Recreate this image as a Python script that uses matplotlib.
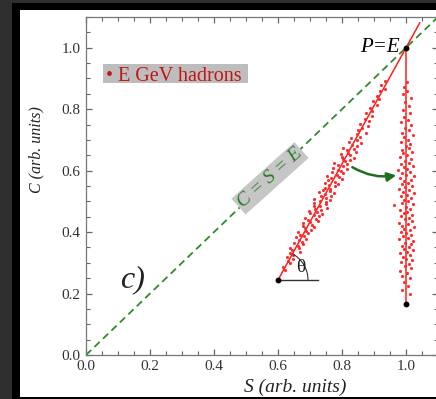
import numpy as np
import matplotlib
matplotlib.use("Agg")
import matplotlib.pyplot as plt
from matplotlib.patches import Arc, Rectangle, FancyArrowPatch
from matplotlib.ticker import MultipleLocator, FormatStrFormatter

plt.rcParams['font.family'] = ['Liberation Serif', 'DejaVu Serif']

# hadron showers, tilted cloud (S, C) before correction
tilt_s = [0.621, 0.616, 0.638, 0.630, 0.648, 0.629, 0.648, 0.639, 0.669, 0.645,
          0.666, 0.636, 0.661, 0.678, 0.650, 0.675, 0.667, 0.689, 0.656, 0.682,
          0.669, 0.693, 0.661, 0.687, 0.702, 0.684, 0.713, 0.679, 0.705, 0.679,
          0.701, 0.724, 0.695, 0.719, 0.683, 0.727, 0.711, 0.738, 0.699, 0.723,
          0.698, 0.733, 0.716, 0.753, 0.714, 0.731, 0.751, 0.714, 0.749, 0.731,
          0.762, 0.714, 0.750, 0.734, 0.765, 0.746, 0.776, 0.728, 0.764, 0.740,
          0.762, 0.747, 0.779, 0.759, 0.789, 0.747, 0.778, 0.756, 0.801, 0.767,
          0.791, 0.754, 0.783, 0.804, 0.769, 0.798, 0.786, 0.815, 0.772, 0.803,
          0.787, 0.816, 0.775, 0.808, 0.825, 0.802, 0.837, 0.799, 0.825, 0.798,
          0.820, 0.843, 0.815, 0.839, 0.804, 0.847, 0.832, 0.860, 0.822, 0.847,
          0.829, 0.855, 0.846, 0.874, 0.849, 0.863, 0.880, 0.856, 0.883, 0.873,
          0.894, 0.874, 0.895, 0.888, 0.909, 0.897, 0.917, 0.908, 0.919, 0.933,
          0.923, 0.934]
tilt_c = [0.278, 0.286, 0.298, 0.305, 0.312, 0.318, 0.326, 0.332, 0.334, 0.341,
          0.347, 0.349, 0.356, 0.361, 0.364, 0.368, 0.375, 0.379, 0.384, 0.387,
          0.392, 0.396, 0.401, 0.403, 0.408, 0.413, 0.418, 0.419, 0.424, 0.429,
          0.432, 0.437, 0.440, 0.444, 0.446, 0.451, 0.455, 0.458, 0.461, 0.465,
          0.469, 0.472, 0.476, 0.480, 0.484, 0.486, 0.490, 0.494, 0.498, 0.501,
          0.505, 0.509, 0.512, 0.516, 0.519, 0.523, 0.526, 0.530, 0.534, 0.537,
          0.541, 0.545, 0.549, 0.553, 0.556, 0.560, 0.564, 0.568, 0.572, 0.575,
          0.579, 0.583, 0.587, 0.591, 0.595, 0.598, 0.602, 0.606, 0.610, 0.614,
          0.618, 0.622, 0.626, 0.630, 0.634, 0.638, 0.642, 0.646, 0.650, 0.654,
          0.658, 0.662, 0.667, 0.671, 0.675, 0.679, 0.684, 0.689, 0.694, 0.699,
          0.705, 0.711, 0.718, 0.724, 0.731, 0.738, 0.745, 0.752, 0.760, 0.768,
          0.777, 0.786, 0.795, 0.805, 0.815, 0.826, 0.834, 0.842, 0.858, 0.866,
          0.878, 0.893]

# same showers after rotation (S = E)
vert_s = [1.014, 0.986, 1.006, 0.993, 1.011, 0.989, 1.003, 0.981, 1.017, 0.996,
          1.008, 0.985, 1.019, 0.999, 0.990, 1.012, 0.982, 1.004, 1.021, 0.993,
          1.009, 0.986, 1.015, 0.998, 1.023, 0.979, 1.006, 0.991, 1.016, 1.001,
          0.984, 1.011, 0.995, 1.024, 0.988, 1.005, 0.977, 1.018, 0.997, 1.009,
          0.985, 1.020, 0.993, 1.003, 0.980, 1.014, 0.999, 0.962, 1.022, 0.989,
          1.007, 0.994, 1.017, 0.983, 1.002, 1.025, 0.990, 1.010, 0.978, 0.998,
          1.019, 0.987, 1.006, 0.995, 1.015, 0.982, 1.024, 1.001, 0.989, 1.012,
          0.976, 1.004, 0.993, 1.021, 0.985, 1.008, 0.997, 1.016, 0.981, 1.003,
          0.992, 1.019, 0.987, 1.009, 0.999, 1.014, 0.983, 1.005, 0.994, 1.022,
          0.988, 1.010, 0.997, 1.017, 0.985, 1.006, 0.993, 1.013, 0.990, 1.008,
          0.996, 1.015, 0.991, 1.004, 0.995, 1.002]
vert_c = [0.198, 0.212, 0.226, 0.238, 0.249, 0.258, 0.266, 0.275, 0.282, 0.289,
          0.296, 0.302, 0.308, 0.314, 0.320, 0.325, 0.331, 0.336, 0.341, 0.346,
          0.351, 0.356, 0.361, 0.366, 0.371, 0.376, 0.381, 0.386, 0.391, 0.396,
          0.401, 0.406, 0.411, 0.416, 0.421, 0.426, 0.431, 0.436, 0.441, 0.446,
          0.451, 0.456, 0.461, 0.466, 0.471, 0.476, 0.481, 0.489, 0.491, 0.496,
          0.501, 0.506, 0.511, 0.516, 0.521, 0.526, 0.531, 0.536, 0.541, 0.546,
          0.551, 0.556, 0.561, 0.566, 0.571, 0.576, 0.581, 0.586, 0.591, 0.596,
          0.601, 0.606, 0.611, 0.616, 0.621, 0.626, 0.632, 0.638, 0.644, 0.650,
          0.656, 0.662, 0.668, 0.674, 0.680, 0.687, 0.694, 0.701, 0.708, 0.715,
          0.723, 0.731, 0.739, 0.748, 0.757, 0.766, 0.776, 0.787, 0.798, 0.810,
          0.822, 0.835, 0.848, 0.860, 0.873, 0.888]

diag_s = [0.0, 1.1]
diag_c = [0.0, 1.1]
fit_s = [0.6, 1.043]
fit_c = [0.244, 1.081]
rot_s = [1.0, 1.0]
rot_c = [0.165, 1.0]
base_s = [0.6, 0.724]
base_c = [0.244, 0.244]
key_s = [0.6, 1.0, 1.0]
key_c = [0.244, 1.0, 0.165]

W, H = 436, 399
fig = plt.figure(figsize=(W / 100, H / 100), dpi=100, facecolor='#2f2f2f')
# dark frame around the panel
fig.add_artist(Rectangle((12 / W, 0), 1, 396 / H, transform=fig.transFigure,
                         facecolor='black', edgecolor='none', zorder=-10))
fig.add_artist(Rectangle((20 / W, 2.5 / H), 1, 386.5 / H, transform=fig.transFigure,
                         facecolor='white', edgecolor='none', zorder=-9))

ax = fig.add_axes([86 / W, 44 / H, 352 / W, 338 / H])
ax.set_facecolor('white')

ax.plot(diag_s, diag_c, color='#2f8a2f', lw=1.3, ls=(0, (4, 2.5)), zorder=2)
ax.plot(fit_s, fit_c, color='#ff1e1e', lw=1.1, zorder=3)
ax.plot(rot_s, rot_c, color='#ff1e1e', lw=1.1, zorder=3)
ax.scatter(tilt_s, tilt_c, s=5, color='#ff2a2a', linewidths=0, zorder=3)
ax.scatter(vert_s, vert_c, s=5, color='#ff2a2a', linewidths=0, zorder=3)
ax.plot(base_s, base_c, color='#333333', lw=1.0, zorder=3)
ax.plot(key_s, key_c, 'o', color='black', ms=3.2, zorder=4)

# angle theta
ax.add_patch(Arc((key_s[0], key_c[0]), 0.1875, 0.195, theta1=0, theta2=62,
                 color='#333333', lw=0.8, zorder=3))
ax.text(0.671, 0.285, 'θ', fontsize=14, ha='center', va='center', color='#222222')

# rotation arrow
ax.add_patch(FancyArrowPatch((0.825, 0.616), (0.978, 0.586),
                             connectionstyle='arc3,rad=0.2', arrowstyle='-|>',
                             mutation_scale=13, color='#1f6f1f', lw=1.8, zorder=5))

ax.text(0.575, 0.575, 'C = S = E', fontsize=14, style='italic', color='#2a7a2a',
        rotation=43, transform_rotates_text=True, rotation_mode='anchor',
        ha='center', va='center', zorder=4,
        bbox=dict(facecolor='#c6c6c6', edgecolor='none', pad=1.5))
ax.text(0.98, 1.0, 'P=E', fontsize=15, style='italic', ha='right', va='center',
        color='black', zorder=5)
ax.text(0.144, 0.244, 'c)', fontsize=23, style='italic', ha='center', va='center',
        color='#222222')

# legend-like label
ax.add_patch(Rectangle((0.053, 0.886), 0.453, 0.062, facecolor='#bdbdbd',
                       edgecolor='none', zorder=4))
ax.text(0.061, 0.891, '• E GeV hadrons', fontsize=14.5, color='#c41414',
        ha='left', va='baseline', zorder=5)

ax.set_xlim(0, 1.1)
ax.set_ylim(0, 1.1)
ax.xaxis.set_major_locator(MultipleLocator(0.2))
ax.xaxis.set_minor_locator(MultipleLocator(0.05))
ax.yaxis.set_major_locator(MultipleLocator(0.2))
ax.yaxis.set_minor_locator(MultipleLocator(0.05))
ax.xaxis.set_major_formatter(FormatStrFormatter('%.1f'))
ax.yaxis.set_major_formatter(FormatStrFormatter('%.1f'))
ax.tick_params(which='both', direction='in', top=True, right=True,
               color='#666666', labelcolor='#333333', labelsize=11)
ax.tick_params(which='major', length=4.5, width=0.9)
ax.tick_params(which='minor', length=3, width=0.8)
ax.tick_params(axis='x', pad=3.5)
ax.tick_params(axis='y', pad=4)
for sp in ax.spines.values():
    sp.set_color('#777777')
    sp.set_linewidth(0.9)

ax.set_xlabel('S (arb. units)', fontsize=14, style='italic', color='#222222', va='center')
ax.xaxis.set_label_coords(0.594, -0.096)
ax.set_ylabel('C (arb. units)', fontsize=11.5, style='italic', color='#222222', va='center')
ax.yaxis.set_label_coords(-0.142, 0.607)

fig.savefig('out.png', dpi=100, facecolor=fig.get_facecolor())
